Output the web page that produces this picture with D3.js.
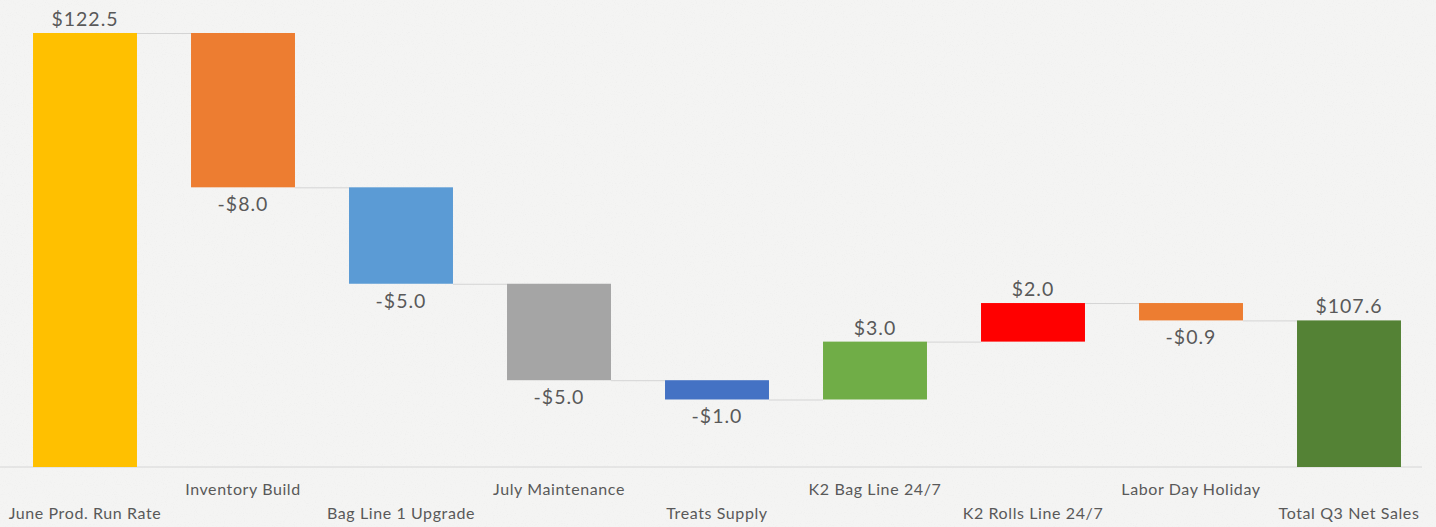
<!DOCTYPE html>
<html>
<head>
<meta charset="utf-8">
<script src="https://cdn.jsdelivr.net/npm/d3@7"></script>
<style>
  html, body { margin: 0; padding: 0; background: #f4f4f3; }
  svg { display: block; }
</style>
</head>
<body>
<svg id="chart" width="1436" height="527"></svg>
<script>
// Q3 net sales bridge: starting run rate, adjustments, ending total
const categories = [
  "June Prod. Run Rate", "Inventory Build", "Bag Line 1 Upgrade", "July Maintenance",
  "Treats Supply", "K2 Bag Line 24/7", "K2 Rolls Line 24/7", "Labor Day Holiday", "Total Q3 Net Sales"
];
const changes = [122.5, -8.0, -5.0, -5.0, -1.0, 3.0, 2.0, -0.9, 107.6];
const isTotal = [true, false, false, false, false, false, false, false, true];
const valueLabels = ["$122.5", "-$8.0", "-$5.0", "-$5.0", "-$1.0", "$3.0", "$2.0", "-$0.9", "$107.6"];
const barColors = ["#FFC000", "#ED7D31", "#5B9BD5", "#A5A5A5", "#4472C4", "#70AD47", "#FF0000", "#ED7D31", "#548235"];
const axisMin = 100;

const W = 1436, H = 527;
const svg = d3.select("#chart");

// paper-like background with faint grain
const defs = svg.append("defs");
const f = defs.append("filter").attr("id", "grain").attr("x", 0).attr("y", 0).attr("width", "100%").attr("height", "100%");
f.append("feTurbulence").attr("type", "fractalNoise").attr("baseFrequency", 0.9).attr("numOctaves", 2).attr("seed", 4).attr("result", "n");
f.append("feColorMatrix").attr("in", "n").attr("type", "matrix")
  .attr("values", "0 0 0 0 0.45  0 0 0 0 0.45  0 0 0 0 0.45  0 0 0 -1.6 0.75");
svg.append("rect").attr("width", W).attr("height", H).attr("fill", "#f4f4f3");
svg.append("rect").attr("width", W).attr("height", H).attr("filter", "url(#grain)").attr("opacity", 0.12);

// running totals: each step's start and end
const steps = [];
let running = 0;
categories.forEach((c, i) => {
  let start, end;
  if (isTotal[i]) { start = axisMin; end = changes[i]; running = changes[i]; }
  else { start = running; end = running + changes[i]; running = end; }
  steps.push({ cat: c, i, start, end, delta: changes[i], total: isTotal[i] });
});

const x = d3.scaleBand().domain(categories).range([6, 1428]).paddingInner(0.342).paddingOuter(0.171);
const y = d3.scaleLinear().domain([axisMin, 122.5]).range([467, 33]);

// horizontal axis line
svg.append("line")
  .attr("x1", 0).attr("x2", 1422)
  .attr("y1", y(axisMin)).attr("y2", y(axisMin))
  .attr("stroke", "#d6d6d6").attr("stroke-width", 1);

// connectors between consecutive bars
svg.append("g").selectAll("line")
  .data(steps.slice(0, -1))
  .join("line")
  .attr("x1", d => x(d.cat) + x.bandwidth())
  .attr("x2", d => x(categories[d.i + 1]))
  .attr("y1", d => y(d.end) + 0.5)
  .attr("y2", d => y(d.end) + 0.5)
  .attr("stroke", "#d4d4d4").attr("stroke-width", 1);

// bars
svg.append("g").selectAll("rect")
  .data(steps)
  .join("rect")
  .attr("x", d => x(d.cat))
  .attr("width", x.bandwidth())
  .attr("y", d => y(Math.max(d.start, d.end)))
  .attr("height", d => Math.abs(y(d.start) - y(d.end)))
  .attr("fill", (d, i) => barColors[i]);

// value labels: above rising/total bars, below falling bars
svg.append("g").selectAll("text")
  .data(steps)
  .join("text")
  .attr("x", d => x(d.cat) + x.bandwidth() / 2)
  .attr("y", d => d.delta >= 0 ? y(Math.max(d.start, d.end)) - 7 : y(d.end) + 24)
  .attr("text-anchor", "middle")
  .attr("font-family", "Lato, 'Open Sans', sans-serif")
  .attr("font-size", 19.5)
  .attr("letter-spacing", 1)
  .attr("fill", "#595959")
  .text((d, i) => valueLabels[i]);

// category labels, staggered on two rows
svg.append("g").selectAll("text")
  .data(steps)
  .join("text")
  .attr("x", d => x(d.cat) + x.bandwidth() / 2)
  .attr("y", d => d.i % 2 === 0 ? 519 : 495)
  .attr("text-anchor", "middle")
  .attr("font-family", "Lato, 'Open Sans', sans-serif")
  .attr("font-size", 16)
  .attr("letter-spacing", 0.6)
  .attr("fill", "#595959")
  .text(d => d.cat);
</script>
</body>
</html>
